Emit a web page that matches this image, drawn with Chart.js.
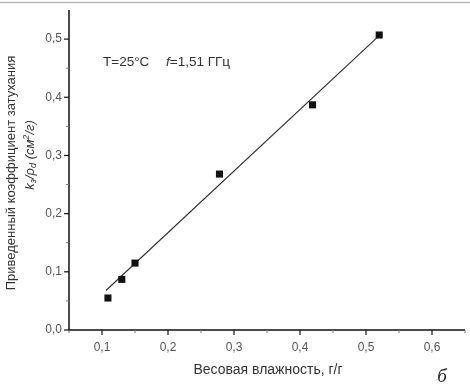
<!DOCTYPE html>
<html>
<head>
<meta charset="utf-8">
<script src="https://cdn.jsdelivr.net/npm/chart.js@4"></script>
<style>
  html, body { margin: 0; padding: 0; background: #fff; }
  #wrap { width: 470px; height: 389px; }
</style>
</head>
<body>
<div id="wrap"><canvas id="c" width="470" height="389"></canvas></div>
<script>
// измерения
const moisture = [0.109, 0.130, 0.150, 0.278, 0.419, 0.520];
const attenuation = [0.055, 0.087, 0.115, 0.268, 0.387, 0.507];
// линия аппроксимации (концы)
const fitX = [0.106, 0.520];
const fitY = [0.068, 0.506];

const xTickValues = [0.1, 0.2, 0.3, 0.4, 0.5, 0.6];
const xTickLabels = ['0,1', '0,2', '0,3', '0,4', '0,5', '0,6'];
const xMinorValues = [0.05, 0.15, 0.25, 0.35, 0.45, 0.55, 0.65];
const yTickValues = [0, 0.1, 0.2, 0.3, 0.4, 0.5];
const yTickLabels = ['0,0', '0,1', '0,2', '0,3', '0,4', '0,5'];
const yMinorValues = [0.05, 0.15, 0.25, 0.35, 0.45];

const FONT = '"Liberation Sans", Arial, sans-serif';

// ========== оси, подписи, текст ==========
const axesPlugin = {
    id: 'axesPlugin',
    afterDraw(chart) {
        const ctx = chart.ctx;
        const xs = chart.scales.x, ys = chart.scales.y;
        const a = chart.chartArea;
        ctx.save();

        // рамка сверху
        ctx.strokeStyle = '#b8b8b8';
        ctx.lineWidth = 1.5;
        ctx.beginPath(); ctx.moveTo(0, 2.5); ctx.lineTo(470, 2.5); ctx.stroke();

        // оси
        ctx.strokeStyle = '#111';
        ctx.lineWidth = 1.5;
        ctx.beginPath();
        ctx.moveTo(a.left, a.top); ctx.lineTo(a.left, a.bottom); ctx.lineTo(a.right, a.bottom);
        ctx.stroke();

        // деления
        ctx.lineWidth = 1.2;
        xTickValues.forEach(v => {
            const px = xs.getPixelForValue(v);
            ctx.beginPath(); ctx.moveTo(px, a.bottom); ctx.lineTo(px, a.bottom + 5); ctx.stroke();
        });
        yTickValues.forEach(v => {
            const py = ys.getPixelForValue(v);
            ctx.beginPath(); ctx.moveTo(a.left, py); ctx.lineTo(a.left - 5, py); ctx.stroke();
        });
        ctx.strokeStyle = '#777';
        ctx.lineWidth = 1;
        xMinorValues.forEach(v => {
            const px = xs.getPixelForValue(v);
            ctx.beginPath(); ctx.moveTo(px, a.bottom); ctx.lineTo(px, a.bottom + 3); ctx.stroke();
        });
        yMinorValues.forEach(v => {
            const py = ys.getPixelForValue(v);
            ctx.beginPath(); ctx.moveTo(a.left, py); ctx.lineTo(a.left - 3, py); ctx.stroke();
        });

        // подписи делений
        ctx.fillStyle = '#555';
        ctx.font = '12px ' + FONT;
        ctx.textAlign = 'center';
        ctx.textBaseline = 'middle';
        xTickValues.forEach((v, i) => ctx.fillText(xTickLabels[i], xs.getPixelForValue(v), a.bottom + 18));
        ctx.textAlign = 'right';
        yTickValues.forEach((v, i) => ctx.fillText(yTickLabels[i], a.left - 7, ys.getPixelForValue(v)));

        // подпись оси X
        ctx.fillStyle = '#333';
        ctx.font = '14px ' + FONT;
        ctx.textAlign = 'center';
        ctx.fillText('Весовая влажность, г/г', 268, 370);

        // подпись оси Y
        ctx.font = '13px ' + FONT;
        ctx.save();
        ctx.translate(11, 173);
        ctx.rotate(-Math.PI / 2);
        ctx.fillText('Приведенный коэффициент затухания', 0, 0);
        ctx.restore();

        ctx.save();
        ctx.translate(30, 155);
        ctx.rotate(-Math.PI / 2);
        const parts = [
            { t: 'k', f: 'italic 13px ' + FONT, dy: 0 },
            { t: 'з', f: 'italic 9px ' + FONT, dy: 3 },
            { t: '/ρ', f: 'italic 13px ' + FONT, dy: 0 },
            { t: 'd', f: 'italic 9px ' + FONT, dy: 3 },
            { t: ' (см', f: 'italic 13px ' + FONT, dy: 0 },
            { t: '2', f: 'italic 9px ' + FONT, dy: -4 },
            { t: '/г)', f: 'italic 13px ' + FONT, dy: 0 }
        ];
        let total = 0;
        parts.forEach(p => { ctx.font = p.f; p.w = ctx.measureText(p.t).width; total += p.w; });
        let cx = -total / 2;
        ctx.textAlign = 'left';
        parts.forEach(p => { ctx.font = p.f; ctx.fillText(p.t, cx, p.dy); cx += p.w; });
        ctx.restore();

        // условия измерения
        ctx.textAlign = 'left';
        ctx.font = '13.5px ' + FONT;
        ctx.fillText('T=25°C', 103, 62);
        ctx.font = 'italic 13.5px ' + FONT;
        ctx.fillText('f', 166, 62);
        const fw = ctx.measureText('f').width;
        ctx.font = '13.5px ' + FONT;
        ctx.fillText('=1,51 ГГц', 166 + fw, 62);

        // буква рисунка
        ctx.fillStyle = '#222';
        ctx.font = 'italic 19px "Liberation Serif", "DejaVu Serif", serif';
        ctx.textAlign = 'center';
        ctx.fillText('б', 442, 377);

        ctx.restore();
    }
};

new Chart(document.getElementById('c'), {
    type: 'scatter',
    data: {
        datasets: [{
            label: 'fit',
            data: fitX.map((x, i) => ({ x: x, y: fitY[i] })),
            showLine: true,
            borderColor: '#333',
            borderWidth: 1.2,
            pointRadius: 0,
            order: 2
        }, {
            label: 'data',
            data: moisture.map((x, i) => ({ x: x, y: attenuation[i] })),
            pointStyle: 'rect',
            pointRadius: 5,
            backgroundColor: '#111',
            borderColor: '#111',
            borderWidth: 0,
            order: 1
        }]
    },
    options: {
        responsive: false,
        animation: false,
        layout: { padding: { top: 10, right: 3, left: 0, bottom: 0 } },
        plugins: { legend: { display: false }, tooltip: { enabled: false } },
        scales: {
            x: {
                type: 'linear', min: 0.05, max: 0.65,
                ticks: { display: false },
                grid: { display: false },
                border: { display: false },
                afterFit: s => { s.height = 59; }
            },
            y: {
                type: 'linear', min: 0, max: 0.55,
                ticks: { display: false },
                grid: { display: false },
                border: { display: false },
                afterFit: s => { s.width = 69; }
            }
        }
    },
    plugins: [axesPlugin]
});
</script>
</body>
</html>
